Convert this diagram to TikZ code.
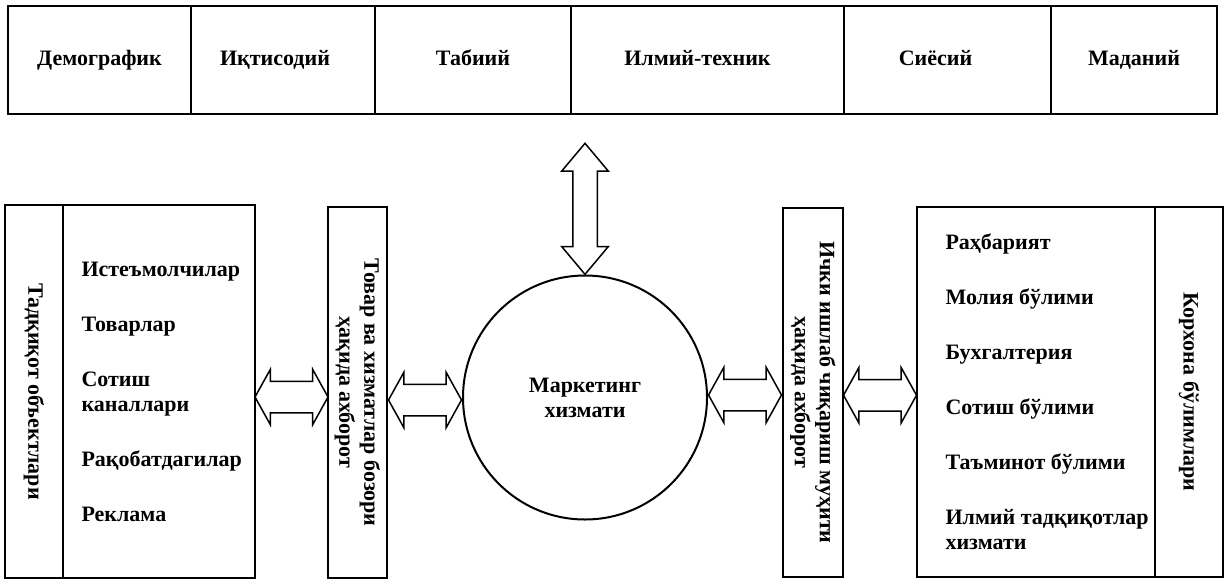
\documentclass[tikz,border=0pt]{standalone}
\usepackage{fontspec}
\setmainfont{Liberation Serif}
\usetikzlibrary{positioning,shapes.arrows,calc}

\tikzset{
  box/.style={draw, line width=1.6pt, inner sep=0pt, outer sep=0pt},
  lbl/.style={font=\bfseries\fontsize{22}{25}\selectfont},
  factor/.style={box, lbl, minimum height=108pt, text height=15pt, text depth=5pt},
  dblarrow/.style={double arrow, draw, line width=1.5pt, fill=white,
    inner xsep=0pt, inner ysep=15pt, minimum height=73pt,
    double arrow head extend=12pt, double arrow tip angle=122},
  uparrow/.style={double arrow, draw, line width=1.5pt, fill=white,
    inner xsep=0pt, inner ysep=11.5pt, rotate=90, minimum height=131pt,
    double arrow head extend=11pt, double arrow tip angle=80},
}

\begin{document}
\begin{tikzpicture}[x=1pt, y=-1pt]
  \useasboundingbox (0,0) rectangle (1231,581);

  % Environment factors (top row)
  \node[factor, minimum width=183pt, anchor=north west] (dem) at (8,6) {Демографик};
  \node[factor, minimum width=184pt, right=0pt of dem] (ikt) {\hspace*{-16pt}Иқтисодий};
  \node[factor, minimum width=196pt, right=0pt of ikt] (tab) {Табиий};
  \node[factor, minimum width=273pt, right=0pt of tab] (ilm) {\hspace*{-20pt}Илмий-техник};
  \node[factor, minimum width=207pt, right=0pt of ilm] (sies) {\hspace*{-24pt}Сиёсий};
  \node[factor, minimum width=166pt, right=0pt of sies] (mad) {Маданий};

  % Research objects
  \node[box, minimum width=58pt, minimum height=373pt] (objt) at (34,391.5) {};
  \node[lbl, rotate=-90] (objtxt) at (objt) {Тадқиқот объектлари};
  \node[box, minimum width=192pt, minimum height=373pt, right=0pt of objt] (objs) {};
  \node[lbl, anchor=west, align=left] (objlist) at ([xshift=15pt]objs.west)
    {Истеъмолчилар\\[30pt]Товарлар\\[30pt]Сотиш\\каналлари\\[30pt]Рақобатдагилар\\[30pt]Реклама};

  % Market information
  \node[box, minimum width=59pt, minimum height=371pt] (tovar) at (357.5,392.5) {};
  \node[lbl, rotate=-90, align=center] (tovartxt) at (tovar) {Товар ва хизматлар бозори\\ҳақида ахборот};

  % Marketing service
  \node[box, circle, line width=2pt, minimum size=244pt, lbl, align=center] (mkt) at (585,397.5) {Маркетинг\\хизмати};

  % Internal information
  \node[box, minimum width=60pt, minimum height=369pt] (ichki) at (813,392.5) {};
  \node[lbl, rotate=-90, align=center] (ichkitxt) at (ichki) {Ички ишлаб чиқариш муҳити\\ҳақида ахборот};

  % Company departments
  \node[box, minimum width=238pt, minimum height=370pt] (dept) at (1036,392) {};
  \node[box, minimum width=68pt, minimum height=370pt, right=0pt of dept] (korh) {};
  \node[lbl, rotate=-90] (korhtxt) at (korh) {Корхона бўлимлари};
  \node[lbl, anchor=west, align=left] (deptlist) at ([xshift=25pt]dept.west)
    {Раҳбарият\\[30pt]Молия бўлими\\[30pt]Бухгалтерия\\[30pt]Сотиш бўлими\\[30pt]Таъминот бўлими\\[30pt]Илмий тадқиқотлар\\хизмати};

  % Two-way arrows
  \node[dblarrow, yshift=-5pt] (a1) at ($(objs.east)!.5!(tovar.west)$) {};
  \node[dblarrow, yshift=-5pt] (a2) at ($(tovar.east)!.5!(mkt.west)$) {};
  \node[dblarrow] (a3) at ($(mkt.east)!.5!(ichki.west)$) {};
  \node[dblarrow, yshift=-3pt] (a4) at ($(ichki.east)!.5!(dept.west)$) {};
  \node[uparrow, anchor=west] (a5) at (mkt.north) {};
\end{tikzpicture}
\end{document}
